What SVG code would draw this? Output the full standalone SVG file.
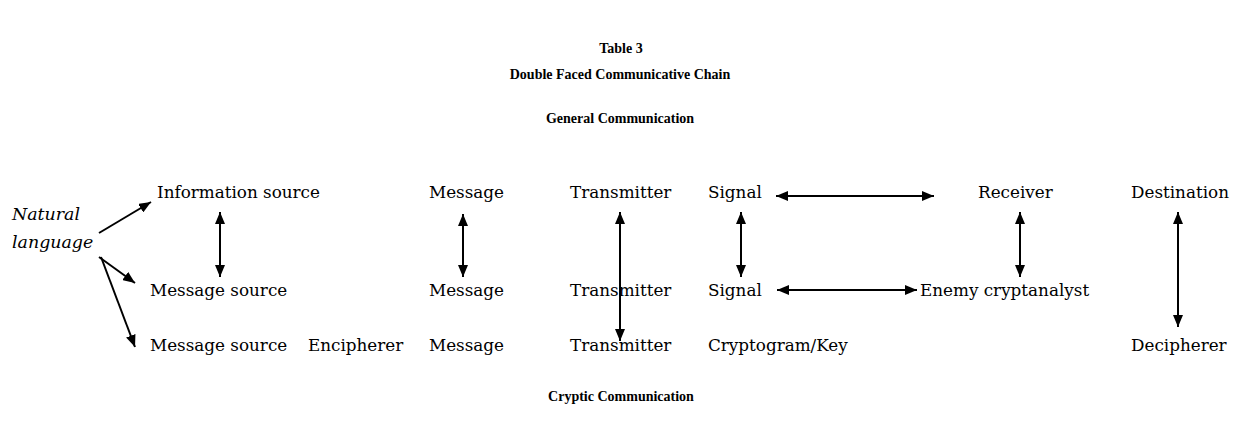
<svg xmlns="http://www.w3.org/2000/svg" width="1240" height="435" viewBox="0 0 1240 435">
  <defs>
    <marker id="head" viewBox="0 0 12 10" refX="12" refY="5" markerWidth="12" markerHeight="10" markerUnits="userSpaceOnUse" orient="auto-start-reverse">
      <path d="M0,0 L12,5 L0,10 Z" fill="#000"/>
    </marker>
    <style>
      .title { font-family: "Liberation Serif", "DejaVu Serif", serif; font-size: 14px; font-weight: bold; text-anchor: middle; fill: #000; }
      .lbl { font-family: "DejaVu Serif", "Liberation Serif", serif; font-size: 16.8px; fill: #000; }
      .it { font-style: italic; font-size: 17.4px; }
      .con { stroke: #000; stroke-width: 2; fill: none; marker-end: url(#head); }
      .both { marker-start: url(#head); }
    </style>
  </defs>
  <rect width="1240" height="435" fill="#fff"/>

  <!-- headings -->
  <g id="headings">
    <text class="title" x="621" y="53">Table 3</text>
    <text class="title" x="620" y="79">Double Faced Communicative Chain</text>
    <text class="title" x="620" y="123">General Communication</text>
    <text class="title" x="621" y="401">Cryptic Communication</text>
  </g>

  <!-- left origin -->
  <g id="natural-language">
    <text class="lbl it" x="12" y="220">Natural</text>
    <text class="lbl it" x="12" y="248">language</text>
  </g>

  <!-- general communication row -->
  <g id="information-source"><text class="lbl" x="157" y="198">Information source</text></g>
  <g id="message-1"><text class="lbl" x="429" y="198">Message</text></g>
  <g id="transmitter-1"><text class="lbl" x="570" y="198">Transmitter</text></g>
  <g id="signal-1"><text class="lbl" x="708" y="198">Signal</text></g>
  <g id="receiver"><text class="lbl" x="978" y="198">Receiver</text></g>
  <g id="destination"><text class="lbl" x="1131" y="198">Destination</text></g>

  <!-- middle row -->
  <g id="message-source-2"><text class="lbl" x="150" y="296">Message source</text></g>
  <g id="message-2"><text class="lbl" x="429" y="296">Message</text></g>
  <g id="transmitter-2"><text class="lbl" x="570" y="296">Transmitter</text></g>
  <g id="signal-2"><text class="lbl" x="708" y="296">Signal</text></g>
  <g id="enemy-cryptanalyst"><text class="lbl" x="920" y="296">Enemy cryptanalyst</text></g>

  <!-- cryptic communication row -->
  <g id="message-source-3"><text class="lbl" x="150" y="351">Message source</text></g>
  <g id="encipherer"><text class="lbl" x="308" y="351">Encipherer</text></g>
  <g id="message-3"><text class="lbl" x="429" y="351">Message</text></g>
  <g id="transmitter-3"><text class="lbl" x="570" y="351">Transmitter</text></g>
  <g id="cryptogram-key"><text class="lbl" x="708" y="351">Cryptogram/Key</text></g>
  <g id="decipherer"><text class="lbl" x="1131" y="351">Decipherer</text></g>

  <!-- connectors -->
  <g id="connectors">
    <line class="con" x1="99" y1="233" x2="151" y2="202"/>
    <line class="con" x1="99" y1="257" x2="135" y2="283"/>
    <line class="con" x1="101" y1="257" x2="135" y2="347"/>
    <line class="con both" x1="220" y1="212" x2="220" y2="277"/>
    <line class="con both" x1="463" y1="214" x2="463" y2="277"/>
    <line class="con both" x1="620" y1="212" x2="620" y2="341"/>
    <line class="con both" x1="741" y1="212" x2="741" y2="277"/>
    <line class="con both" x1="776" y1="196" x2="934" y2="196"/>
    <line class="con both" x1="777" y1="290" x2="917" y2="290"/>
    <line class="con both" x1="1020" y1="212" x2="1020" y2="277"/>
    <line class="con both" x1="1178" y1="212" x2="1178" y2="327"/>
  </g>
</svg>
